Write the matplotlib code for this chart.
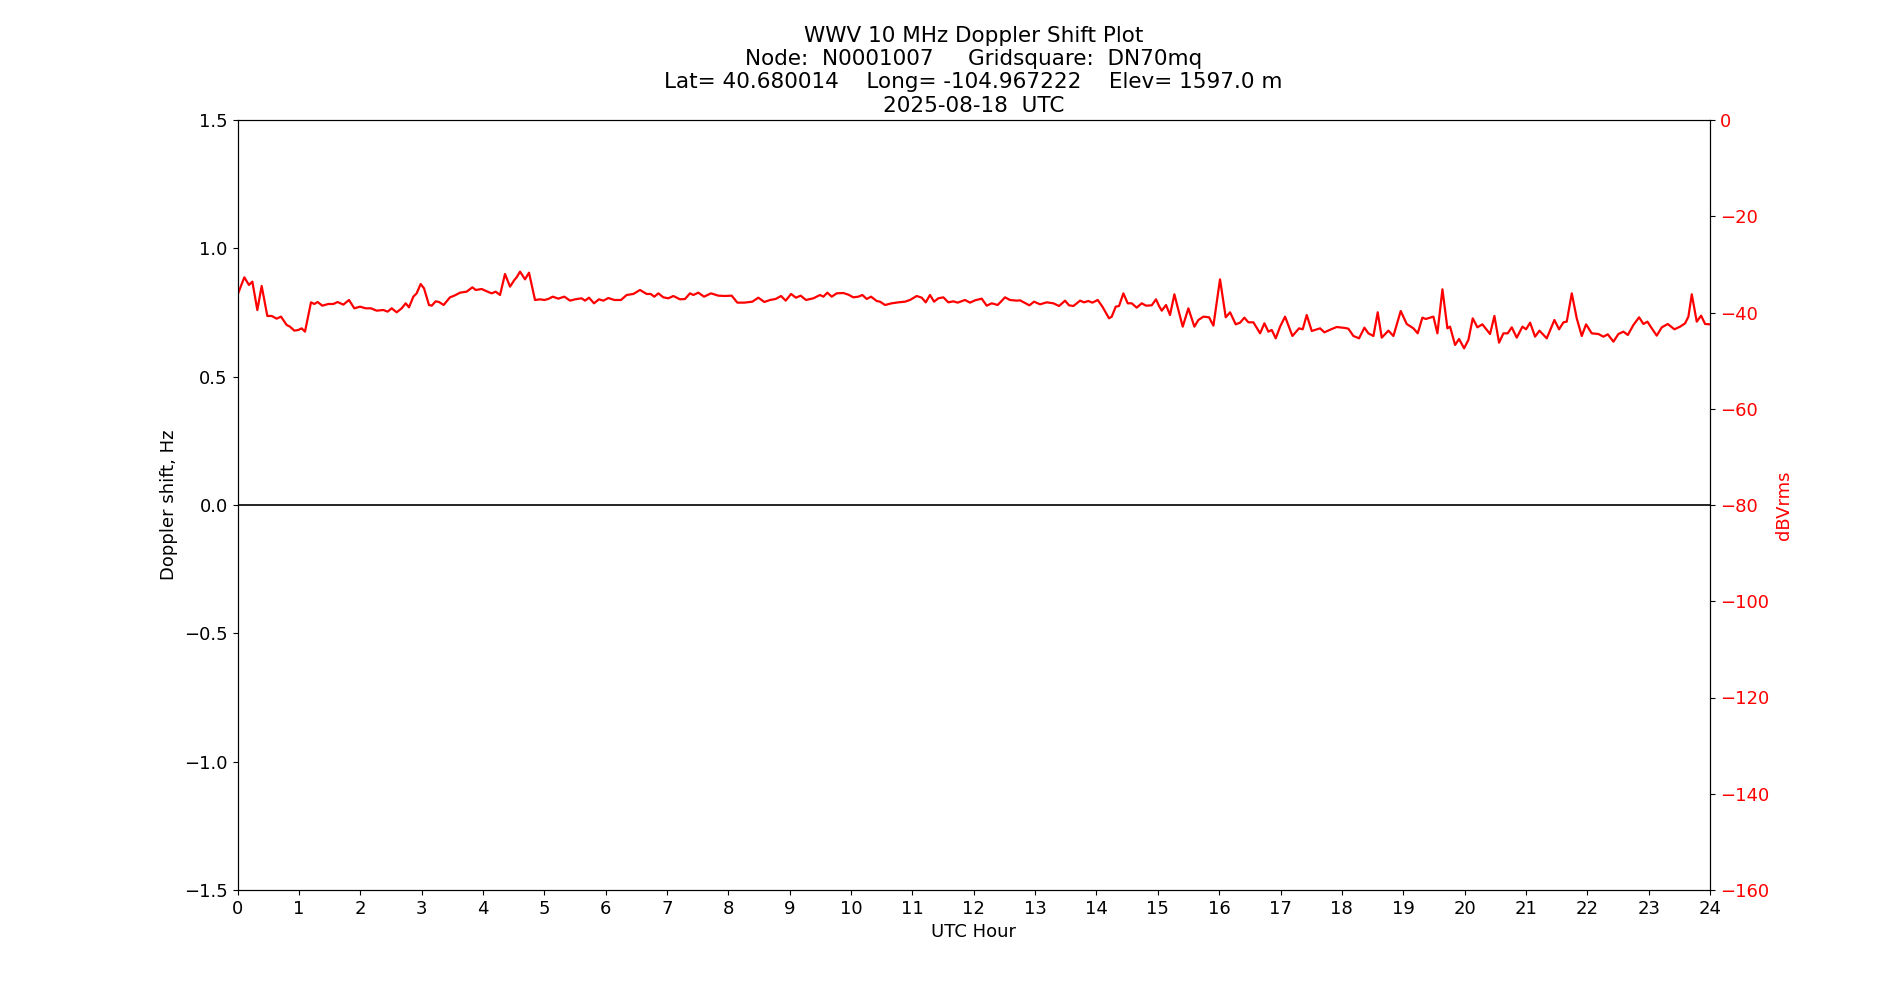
import matplotlib

matplotlib.use("Agg")

import matplotlib.pyplot as plt

# 信号强度 (dBVrms)
hours = [
    0.0, 0.111, 0.187, 0.242, 0.323, 0.394, 0.486, 0.557, 0.638, 0.709,
    0.801, 0.855, 0.926, 0.991, 1.046, 1.100, 1.198, 1.252, 1.306, 1.383,
    1.480, 1.562, 1.632, 1.725, 1.817, 1.904, 1.997, 2.089, 2.176, 2.268,
    2.377, 2.447, 2.513, 2.594, 2.676, 2.741, 2.795, 2.866, 2.920, 2.985,
    3.040, 3.121, 3.165, 3.230, 3.284, 3.360, 3.463, 3.545, 3.627, 3.735,
    3.828, 3.882, 3.980, 4.088, 4.143, 4.208, 4.279, 4.360, 4.442, 4.512,
    4.550, 4.605, 4.686, 4.751, 4.849, 4.930, 5.001, 5.066, 5.137, 5.229,
    5.327, 5.420, 5.501, 5.610, 5.664, 5.729, 5.811, 5.892, 5.963, 6.044,
    6.142, 6.251, 6.343, 6.452, 6.560, 6.669, 6.734, 6.794, 6.859, 6.941,
    7.022, 7.104, 7.212, 7.294, 7.375, 7.430, 7.511, 7.604, 7.718, 7.837,
    7.946, 8.055, 8.147, 8.261, 8.392, 8.489, 8.587, 8.679, 8.772, 8.859,
    8.935, 9.022, 9.103, 9.179, 9.266, 9.386, 9.495, 9.549, 9.614, 9.685,
    9.766, 9.875, 9.956, 10.038, 10.119, 10.185, 10.255, 10.326, 10.418, 10.472,
    10.554, 10.663, 10.771, 10.880, 10.961, 11.070, 11.152, 11.217, 11.287, 11.353,
    11.423, 11.505, 11.586, 11.668, 11.738, 11.858, 11.939, 12.021, 12.130, 12.211,
    12.293, 12.390, 12.510, 12.591, 12.700, 12.754, 12.825, 12.907, 12.983, 13.080,
    13.189, 13.298, 13.390, 13.488, 13.553, 13.624, 13.733, 13.798, 13.868, 13.934,
    14.021, 14.097, 14.205, 14.249, 14.314, 14.368, 14.439, 14.509, 14.575, 14.656,
    14.738, 14.808, 14.901, 14.971, 15.020, 15.064, 15.134, 15.199, 15.270, 15.335,
    15.406, 15.498, 15.596, 15.661, 15.743, 15.835, 15.906, 16.014, 16.107, 16.178,
    16.270, 16.341, 16.411, 16.476, 16.558, 16.667, 16.737, 16.802, 16.857, 16.922,
    16.993, 17.074, 17.194, 17.302, 17.362, 17.427, 17.509, 17.645, 17.715, 17.835,
    17.916, 18.052, 18.106, 18.188, 18.280, 18.367, 18.432, 18.514, 18.584, 18.650,
    18.758, 18.840, 18.959, 19.057, 19.166, 19.236, 19.312, 19.367, 19.492, 19.557,
    19.639, 19.720, 19.763, 19.845, 19.910, 19.992, 20.062, 20.133, 20.209, 20.290,
    20.415, 20.486, 20.562, 20.633, 20.703, 20.769, 20.850, 20.943, 21.002, 21.068,
    21.149, 21.220, 21.339, 21.464, 21.540, 21.611, 21.665, 21.747, 21.828, 21.910,
    21.980, 22.073, 22.181, 22.263, 22.334, 22.426, 22.507, 22.589, 22.660, 22.752,
    22.844, 22.915, 22.980, 23.051, 23.132, 23.214, 23.312, 23.420, 23.513, 23.594,
    23.648, 23.703, 23.784, 23.855, 23.920, 24.0,
]
dbv = [
    -36.36, -32.69, -34.28, -33.59, -39.48, -34.49, -40.72, -40.72, -41.28, -40.86,
    -42.59, -42.94, -43.77, -43.63, -43.29, -43.98, -37.89, -38.23, -37.82, -38.58,
    -38.23, -38.23, -37.82, -38.37, -37.40, -39.13, -38.79, -39.13, -39.13, -39.62,
    -39.48, -39.82, -39.13, -39.96, -39.13, -38.09, -38.92, -36.71, -36.02, -34.08,
    -34.98, -38.44, -38.58, -37.68, -37.82, -38.44, -36.85, -36.43, -35.88, -35.67,
    -34.77, -35.32, -35.12, -35.74, -36.02, -35.67, -36.36, -32.00, -34.63, -33.25,
    -32.69, -31.51, -33.11, -31.72, -37.40, -37.26, -37.40, -37.19, -36.71, -37.12,
    -36.71, -37.54, -37.26, -37.05, -37.54, -36.92, -38.09, -37.26, -37.54, -36.99,
    -37.40, -37.40, -36.36, -36.15, -35.32, -36.15, -36.15, -36.71, -36.02, -36.85,
    -37.05, -36.57, -37.26, -37.19, -36.02, -36.36, -35.88, -36.71, -36.02, -36.50,
    -36.57, -36.50, -37.95, -37.95, -37.75, -36.92, -37.82, -37.40, -37.19, -36.57,
    -37.54, -36.15, -36.92, -36.50, -37.40, -37.05, -36.36, -36.71, -35.88, -36.71,
    -36.02, -35.95, -36.29, -36.85, -36.71, -36.36, -37.19, -36.71, -37.61, -37.75,
    -38.44, -38.09, -37.89, -37.75, -37.40, -36.57, -36.92, -37.89, -36.36, -37.75,
    -37.05, -36.85, -37.89, -37.68, -37.95, -37.40, -37.95, -37.47, -37.12, -38.58,
    -38.09, -38.44, -36.85, -37.40, -37.54, -37.47, -37.95, -38.51, -37.75, -38.30,
    -37.89, -38.09, -38.65, -37.54, -38.51, -38.65, -37.54, -37.89, -37.61, -37.95,
    -37.40, -38.79, -41.21, -40.86, -38.79, -38.65, -36.02, -38.09, -38.09, -38.99,
    -38.09, -38.58, -38.51, -37.26, -38.65, -39.62, -38.44, -40.52, -36.22, -39.48,
    -42.94, -39.13, -42.94, -41.56, -40.86, -41.00, -42.73, -33.11, -41.00, -39.96,
    -42.46, -42.11, -41.07, -42.04, -42.04, -44.33, -42.25, -43.98, -43.63, -45.37,
    -42.94, -40.86, -44.88, -43.29, -43.49, -40.52, -43.84, -43.29, -44.12, -43.43,
    -43.01, -43.22, -43.36, -44.88, -45.37, -43.15, -44.33, -44.88, -39.96, -45.23,
    -43.77, -44.88, -39.69, -42.39, -43.29, -44.33, -41.07, -41.35, -40.86, -44.33,
    -35.18, -43.29, -42.94, -46.75, -45.50, -47.44, -45.71, -41.21, -43.08, -42.46,
    -44.47, -40.72, -46.27, -44.33, -44.33, -43.08, -45.23, -42.94, -43.49, -42.11,
    -45.02, -43.77, -45.37, -41.56, -43.49, -42.04, -41.90, -36.02, -41.21, -44.88,
    -42.46, -44.33, -44.47, -45.02, -44.54, -46.06, -44.47, -43.98, -44.67, -42.59,
    -41.00, -42.39, -41.90, -43.29, -44.81, -43.08, -42.39, -43.49, -42.94, -42.25,
    -40.86, -36.22, -41.90, -40.65, -42.39, -42.46,
]

# 多普勒频移 (Hz), 全天基本为 0
doppler_hours = [0, 4, 8, 12, 16, 20, 24]
doppler_hz = [0.0, 0.0, 0.0, 0.0, 0.0, 0.0, 0.0]

title = (
    "WWV 10 MHz Doppler Shift Plot\n"
    "Node:  N0001007     Gridsquare:  DN70mq\n"
    "Lat= 40.680014    Long= -104.967222    Elev= 1597.0 m\n"
    "2025-08-18  UTC"
)

fig, ax = plt.subplots(figsize=(19, 10), dpi=100)

# 左轴: 多普勒
ax.plot(doppler_hours, doppler_hz, color="black", linewidth=1.2)
ax.set_xlim(0, 24)
ax.set_ylim(-1.5, 1.5)
ax.set_xticks(range(0, 25))
ax.tick_params(labelsize=13)
ax.set_xlabel("UTC Hour", fontsize=13)
ax.set_ylabel("Doppler shift, Hz", fontsize=13)
ax.set_title(title, fontsize=15.5)

# 右轴: 信号强度
ax2 = ax.twinx()
ax2.plot(hours, dbv, color="red", linewidth=1.6)
ax2.set_ylim(-160, 0)
ax2.tick_params(labelsize=13, labelcolor="red")
ax2.set_ylabel("dBVrms", color="red", fontsize=13)

plt.savefig("out.png")
print("save plot image to: out.png")
